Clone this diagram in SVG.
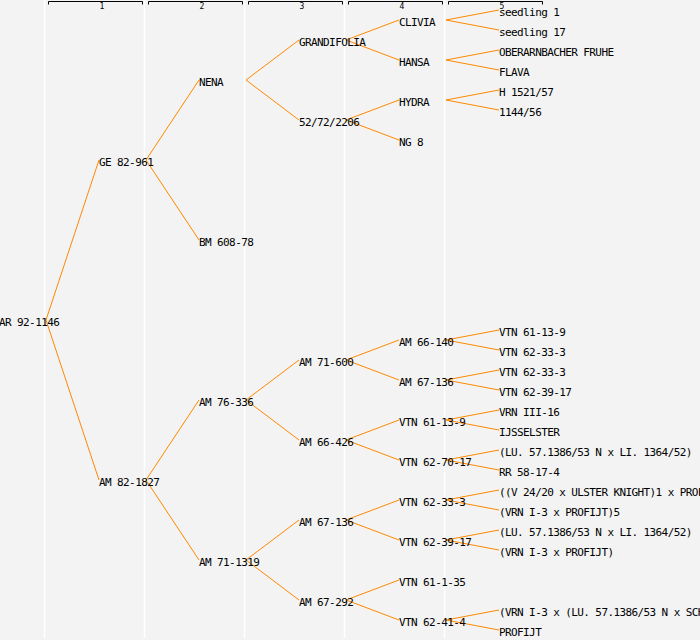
<svg xmlns="http://www.w3.org/2000/svg" width="700" height="640" viewBox="0 0 700 640">
<style>
.bg{fill:#f3f3f3}
.col{stroke:#ffffff;stroke-width:1.5}
.br{fill:none;stroke:#000;stroke-width:1}
.hd{font-family:"DejaVu Sans Mono",monospace;font-size:8px;fill:#000;text-anchor:middle}
text.n{font-family:"DejaVu Sans Mono","Liberation Mono",monospace;font-size:11px;letter-spacing:-0.6px;fill:#000}
#connectors line{stroke:#ff8800;stroke-width:1}
</style>
<rect class="bg" x="0" y="0" width="700" height="640"/>
<g id="grid">
<line class="col" x1="44.5" y1="0" x2="44.5" y2="638"/>
<line class="col" x1="144.5" y1="0" x2="144.5" y2="638"/>
<line class="col" x1="244.5" y1="0" x2="244.5" y2="638"/>
<line class="col" x1="344.5" y1="0" x2="344.5" y2="638"/>
<line class="col" x1="444.5" y1="0" x2="444.5" y2="638"/>
</g>
<g id="header">
<path class="br" d="M48.5 4.5V1.5H142.5V4.5"/>
<path class="br" d="M148.5 4.5V1.5H242.5V4.5"/>
<path class="br" d="M248.5 4.5V1.5H342.5V4.5"/>
<path class="br" d="M348.5 4.5V1.5H442.5V4.5"/>
<path class="br" d="M448.5 4.5V1.5H542.5V4.5"/>
<text class="hd" x="102" y="9">1</text>
<text class="hd" x="202" y="9">2</text>
<text class="hd" x="302" y="9">3</text>
<text class="hd" x="402" y="9">4</text>
<text class="hd" x="502" y="9">5</text>
</g>
<g id="connectors">
<line x1="46" y1="320" x2="99" y2="160"/>
<line x1="46" y1="320" x2="99" y2="480"/>
<line x1="146" y1="160" x2="199" y2="80"/>
<line x1="146" y1="160" x2="199" y2="240"/>
<line x1="246" y1="80" x2="299" y2="40"/>
<line x1="246" y1="80" x2="299" y2="120"/>
<line x1="346" y1="40" x2="399" y2="20"/>
<line x1="346" y1="40" x2="399" y2="60"/>
<line x1="446" y1="20" x2="499" y2="10"/>
<line x1="446" y1="20" x2="499" y2="30"/>
<line x1="446" y1="60" x2="499" y2="50"/>
<line x1="446" y1="60" x2="499" y2="70"/>
<line x1="346" y1="120" x2="399" y2="100"/>
<line x1="346" y1="120" x2="399" y2="140"/>
<line x1="446" y1="100" x2="499" y2="90"/>
<line x1="446" y1="100" x2="499" y2="110"/>
<line x1="146" y1="480" x2="199" y2="400"/>
<line x1="146" y1="480" x2="199" y2="560"/>
<line x1="246" y1="400" x2="299" y2="360"/>
<line x1="246" y1="400" x2="299" y2="440"/>
<line x1="346" y1="360" x2="399" y2="340"/>
<line x1="346" y1="360" x2="399" y2="380"/>
<line x1="446" y1="340" x2="499" y2="330"/>
<line x1="446" y1="340" x2="499" y2="350"/>
<line x1="446" y1="380" x2="499" y2="370"/>
<line x1="446" y1="380" x2="499" y2="390"/>
<line x1="346" y1="440" x2="399" y2="420"/>
<line x1="346" y1="440" x2="399" y2="460"/>
<line x1="446" y1="420" x2="499" y2="410"/>
<line x1="446" y1="420" x2="499" y2="430"/>
<line x1="446" y1="460" x2="499" y2="450"/>
<line x1="446" y1="460" x2="499" y2="470"/>
<line x1="246" y1="560" x2="299" y2="520"/>
<line x1="246" y1="560" x2="299" y2="600"/>
<line x1="346" y1="520" x2="399" y2="500"/>
<line x1="346" y1="520" x2="399" y2="540"/>
<line x1="446" y1="500" x2="499" y2="490"/>
<line x1="446" y1="500" x2="499" y2="510"/>
<line x1="446" y1="540" x2="499" y2="530"/>
<line x1="446" y1="540" x2="499" y2="550"/>
<line x1="346" y1="600" x2="399" y2="580"/>
<line x1="346" y1="600" x2="399" y2="620"/>
<line x1="446" y1="620" x2="499" y2="610"/>
<line x1="446" y1="620" x2="499" y2="630"/>
</g>
<g id="n-root"><text class="n" x="-1" y="326">AR 92-1146</text></g>
<g id="n-ge82961"><text class="n" x="99" y="166">GE 82-961</text></g>
<g id="n-nena"><text class="n" x="199" y="86">NENA</text></g>
<g id="n-grandifolia"><text class="n" x="299" y="46">GRANDIFOLIA</text></g>
<g id="n-clivia"><text class="n" x="399" y="26">CLIVIA</text></g>
<g id="n-seedling1"><text class="n" x="499" y="16">seedling 1</text></g>
<g id="n-seedling17"><text class="n" x="499" y="36">seedling 17</text></g>
<g id="n-hansa"><text class="n" x="399" y="66">HANSA</text></g>
<g id="n-oberarnbacher"><text class="n" x="499" y="56">OBERARNBACHER FRUHE</text></g>
<g id="n-flava"><text class="n" x="499" y="76">FLAVA</text></g>
<g id="n-527222206"><text class="n" x="299" y="126">52/72/2206</text></g>
<g id="n-hydra"><text class="n" x="399" y="106">HYDRA</text></g>
<g id="n-h152157"><text class="n" x="499" y="96">H 1521/57</text></g>
<g id="n-114456"><text class="n" x="499" y="116">1144/56</text></g>
<g id="n-ng8"><text class="n" x="399" y="146">NG 8</text></g>
<g id="n-bm60878"><text class="n" x="199" y="246">BM 608-78</text></g>
<g id="n-am821827"><text class="n" x="99" y="486">AM 82-1827</text></g>
<g id="n-am76336"><text class="n" x="199" y="406">AM 76-336</text></g>
<g id="n-am71600"><text class="n" x="299" y="366">AM 71-600</text></g>
<g id="n-am66140"><text class="n" x="399" y="346">AM 66-140</text></g>
<g id="n-vtn61139a"><text class="n" x="499" y="336">VTN 61-13-9</text></g>
<g id="n-vtn62333a"><text class="n" x="499" y="356">VTN 62-33-3</text></g>
<g id="n-am67136a"><text class="n" x="399" y="386">AM 67-136</text></g>
<g id="n-vtn62333b"><text class="n" x="499" y="376">VTN 62-33-3</text></g>
<g id="n-vtn623917a"><text class="n" x="499" y="396">VTN 62-39-17</text></g>
<g id="n-am66426"><text class="n" x="299" y="446">AM 66-426</text></g>
<g id="n-vtn61139b"><text class="n" x="399" y="426">VTN 61-13-9</text></g>
<g id="n-vrn3-16"><text class="n" x="499" y="416">VRN III-16</text></g>
<g id="n-ijsselster"><text class="n" x="499" y="436">IJSSELSTER</text></g>
<g id="n-vtn627017"><text class="n" x="399" y="466">VTN 62-70-17</text></g>
<g id="n-lu-li-a"><text class="n" x="499" y="456">(LU. 57.1386/53 N x LI. 1364/52)</text></g>
<g id="n-rr58174"><text class="n" x="499" y="476">RR 58-17-4</text></g>
<g id="n-am711319"><text class="n" x="199" y="566">AM 71-1319</text></g>
<g id="n-am67136b"><text class="n" x="299" y="526">AM 67-136</text></g>
<g id="n-vtn62333c"><text class="n" x="399" y="506">VTN 62-33-3</text></g>
<g id="n-v2420"><text class="n" x="499" y="496">((V 24/20 x ULSTER KNIGHT)1 x PROF</text></g>
<g id="n-vrn-profijt5"><text class="n" x="499" y="516">(VRN I-3 x PROFIJT)5</text></g>
<g id="n-vtn623917b"><text class="n" x="399" y="546">VTN 62-39-17</text></g>
<g id="n-lu-li-b"><text class="n" x="499" y="536">(LU. 57.1386/53 N x LI. 1364/52)</text></g>
<g id="n-vrn-profijt"><text class="n" x="499" y="556">(VRN I-3 x PROFIJT)</text></g>
<g id="n-am67292"><text class="n" x="299" y="606">AM 67-292</text></g>
<g id="n-vtn61135"><text class="n" x="399" y="586">VTN 61-1-35</text></g>
<g id="n-vtn62414"><text class="n" x="399" y="626">VTN 62-41-4</text></g>
<g id="n-vrn-lu-sch"><text class="n" x="499" y="616">(VRN I-3 x (LU. 57.1386/53 N x SCH</text></g>
<g id="n-profijt"><text class="n" x="499" y="636">PROFIJT</text></g>
</svg>
